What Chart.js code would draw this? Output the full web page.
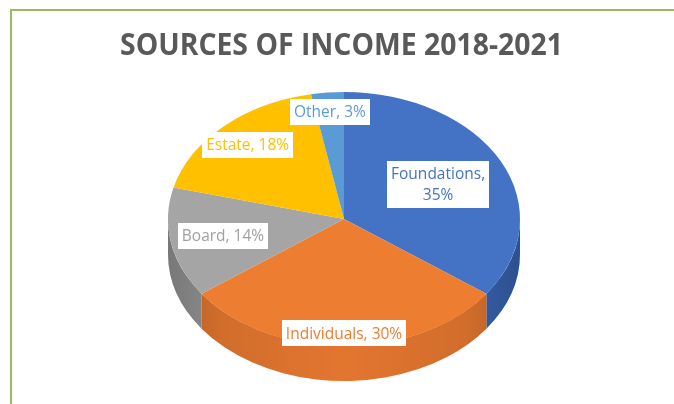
<!DOCTYPE html>
<html>
<head>
<meta charset="utf-8">
<script src="https://cdn.jsdelivr.net/npm/chart.js@4"></script>
<style>
  html, body { margin: 0; padding: 0; background: #fff; }
  #wrap { position: relative; width: 674px; height: 404px; overflow: hidden; }
  #frame { position: absolute; left: 10px; top: 9px; right: -5px; bottom: -5px;
           border-left: 2px solid #9bbb59; border-top: 2px solid #9bbb59; pointer-events: none; }
  canvas { position: absolute; left: 0; top: 0; }
</style>
</head>
<body>
<div id="wrap"><canvas id="c" width="674" height="404"></canvas><div id="frame"></div></div>
<script>
// --- data ---
const categories = ['Foundations', 'Individuals', 'Board', 'Estate', 'Other'];
const shares     = [35, 30, 14, 18, 3];

// --- look ---
const sliceColors = ['#4472C4', '#ED7D31', '#A5A5A5', '#FFC000', '#5B9BD5'];
const wallColors  = ['#3a66b8', '#e3762f', '#999999', '#e0a800', '#4a88c0'];
const labelColors = ['#4472C4', '#ED7D31', '#A0A0A0', '#FFC000', '#5B9BD5'];
const labelRadius = [0.6, 0.9, 0.7, 0.8, 0.85];
const wrapped     = ['Foundations'];

// tilted ellipse the flat pie is projected onto
const PIE = { cx: 344, cy: 219, rx: 176, ry: 127, depth: 35 };
const LABEL_FONT = "15.5px 'Open Sans', sans-serif";

const pie3d = {
  id: 'pie3d',
  beforeDatasetsDraw(chart) {
    const ctx = chart.ctx;
    const arcs = chart.getDatasetMeta(0).data;
    const { cx, cy, rx, ry, depth } = PIE;
    // side wall (front half only)
    ctx.save();
    arcs.forEach((arc, i) => {
      const s = Math.max(arc.startAngle, 0), e = Math.min(arc.endAngle, Math.PI);
      if (e <= s) return;
      ctx.beginPath();
      ctx.ellipse(cx, cy, rx, ry, 0, s, e);
      ctx.ellipse(cx, cy + depth, rx, ry, 0, e, s, true);
      ctx.closePath();
      ctx.fillStyle = wallColors[i];
      ctx.fill();
      const g = ctx.createLinearGradient(cx - rx, 0, cx + rx, 0);
      g.addColorStop(0, 'rgba(0,0,0,0.22)');
      g.addColorStop(0.15, 'rgba(0,0,0,0.08)');
      g.addColorStop(0.5, 'rgba(0,0,0,0)');
      g.addColorStop(0.85, 'rgba(0,0,0,0.08)');
      g.addColorStop(1, 'rgba(0,0,0,0.22)');
      ctx.fillStyle = g;
      ctx.fill();
    });
    ctx.restore();
    // squash the top face
    const a = arcs[0];
    ctx.save();
    ctx.translate(cx, cy);
    ctx.scale(rx / a.outerRadius, ry / a.outerRadius);
    ctx.translate(-a.x, -a.y);
  },
  afterDatasetsDraw(chart) {
    const ctx = chart.ctx;
    ctx.restore();
    const arcs = chart.getDatasetMeta(0).data;
    const { cx, cy, rx, ry } = PIE;
    ctx.save();
    ctx.font = LABEL_FONT;
    ctx.textAlign = 'center';
    ctx.textBaseline = 'middle';
    arcs.forEach((arc, i) => {
      const mid = (arc.startAngle + arc.endAngle) / 2;
      const x = cx + rx * labelRadius[i] * Math.cos(mid);
      const y = cy + ry * labelRadius[i] * Math.sin(mid);
      const lines = wrapped.includes(categories[i])
        ? [categories[i] + ',', shares[i] + '%']
        : [categories[i] + ', ' + shares[i] + '%'];
      const lh = 21;
      const w = Math.max(...lines.map(l => ctx.measureText(l).width)) + 8;
      const h = lines.length * lh + 5;
      ctx.fillStyle = '#fff';
      ctx.fillRect(Math.round(x - w / 2), Math.round(y - h / 2), Math.round(w), h);
      ctx.fillStyle = labelColors[i];
      lines.forEach((l, k) => ctx.fillText(l, x, y - (lines.length - 1) * lh / 2 + k * lh + 1));
    });
    ctx.restore();
  }
};

new Chart(document.getElementById('c'), {
  type: 'pie',
  data: {
    labels: categories,
    datasets: [{ data: shares, backgroundColor: sliceColors, borderWidth: 0, clip: false }]
  },
  options: {
    responsive: false,
    animation: false,
    events: [],
    // the title box width follows this padding; the pie itself is placed by PIE
    layout: { padding: { left: 120, right: 111, top: 0, bottom: 0 } },
    plugins: {
      legend: { display: false },
      tooltip: { enabled: false },
      title: {
        display: true,
        text: 'SOURCES OF INCOME 2018-2021',
        color: '#595959',
        font: { family: "'Open Sans', sans-serif", size: 31, weight: 'bold' },
        padding: { top: 28, bottom: 10 }
      }
    }
  },
  plugins: [pie3d]
});
</script>
</body>
</html>
